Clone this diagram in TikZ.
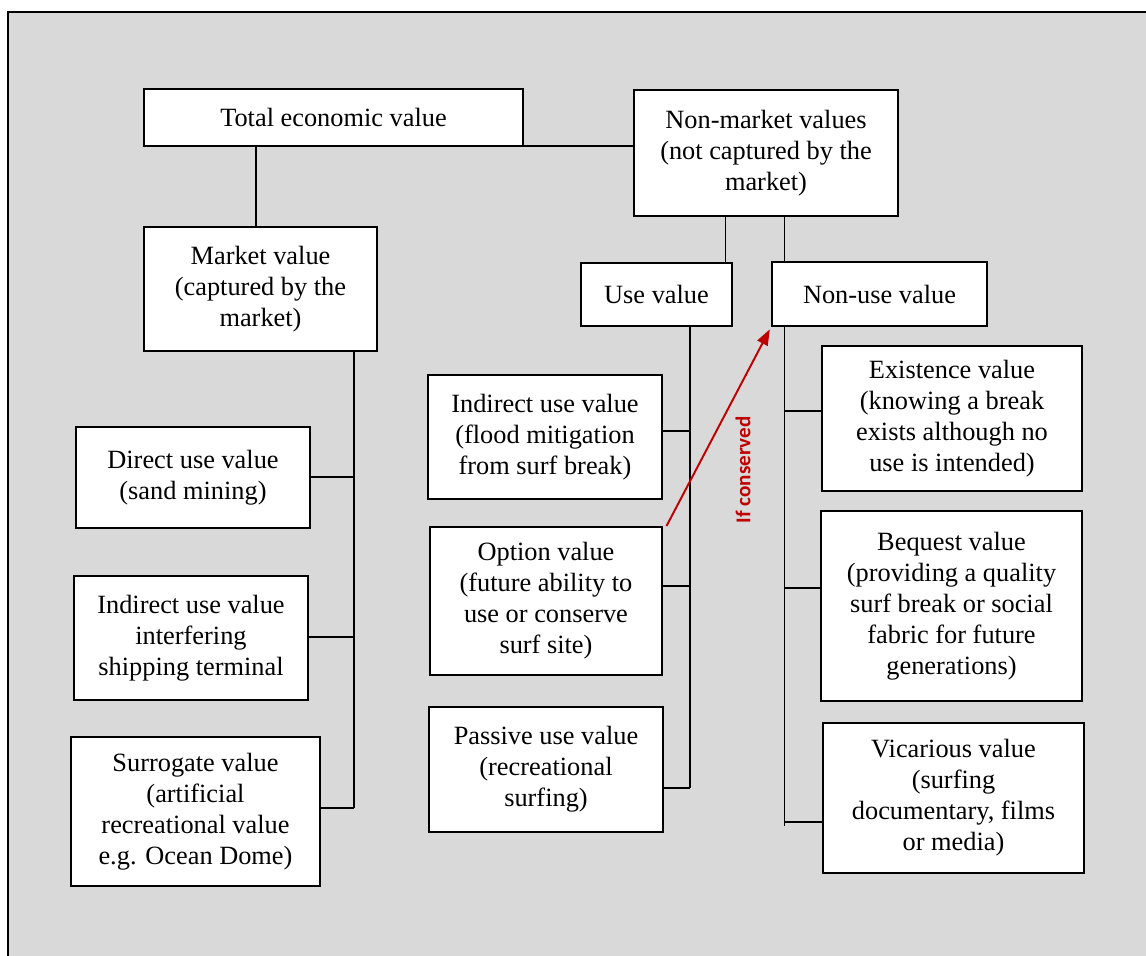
\documentclass[tikz,border=0pt]{standalone}
\usepackage{fontspec}
\setmainfont{Liberation Serif}
\newfontfamily\calibrifont{Carlito}
\usetikzlibrary{arrows.meta}
\definecolor{bgc}{HTML}{D9D9D9}
\definecolor{arrred}{HTML}{C00000}
\newcommand\mkbox[6]{%
  \pgfmathsetmacro\mybw{(#3-#2)*0.02}%
  \pgfmathsetmacro\mybh{(#5-#4)*0.02}%
  \node[bx, minimum width=\mybw cm, minimum height=\mybh cm] (#1) at ({(#2+#3)/2},{(#4+#5)/2}) {#6};}
\begin{document}
\begin{tikzpicture}[x=0.02cm,y=-0.02cm,
  bx/.style={draw=black, fill=white, line width=1.1pt, align=center, inner sep=0pt,
    font=\fontsize{15}{17.6}\selectfont},
  ln/.style={line width=1.1pt, draw=black},
  arr/.style={draw=arrred, line width=1.1pt, -{Triangle[length=9pt,width=6.5pt]}},
  lbl/.style={rotate=90, text=arrred, font=\calibrifont\bfseries\fontsize{12}{14}\selectfont}]
\useasboundingbox (0,0) rectangle (1146,956);
\clip (0,0) rectangle (1146,956);
% background frame
\fill[bgc] (8,12) rectangle (1170,980);
\draw[line width=1.1pt] (8,980) -- (8,12) -- (1170,12);

% boxes
\mkbox{tev}{144}{523}{89}{146}{Total economic value}
\mkbox{nmv}{634}{898}{90}{216}{Non-market values\\(not captured by the\\market)}
\mkbox{mv}{144}{377}{227}{351}{Market value\\(captured by the\\market)}
\mkbox{uv}{581}{732}{263}{326}{Use value}
\mkbox{nuv}{772}{987}{262}{326}{Non-use value}
\mkbox{duv}{76}{310}{427}{528}{Direct use value\\(sand mining)}
\mkbox{iuvb}{74}{308}{576}{700}{Indirect use value\\interfering\\shipping terminal}
\mkbox{sv}{71}{320}{737}{886}{Surrogate value\\(artificial\\recreational value\\e.g. Ocean Dome)}
\mkbox{iuv}{428}{662}{375}{499}{Indirect use value\\(flood mitigation\\from surf break)}
\mkbox{ov}{430}{662}{527}{675}{Option value\\(future ability to\\use or conserve\\surf site)}
\mkbox{puv}{429}{663}{707}{832}{Passive use value\\(recreational\\surfing)}
\mkbox{ev}{822}{1082}{346}{491}{Existence value\\(knowing a break\\exists although no\\use is intended)}
\mkbox{bv}{821}{1082}{511}{701}{Bequest value\\(providing a quality\\surf break or social\\fabric for future\\generations)}
\mkbox{vv}{823}{1084}{723}{873}{Vicarious value\\(surfing\\documentary, films\\or media)}

% spine coordinates
\coordinate (tx) at (256,0);
\coordinate (lx) at (354,0);
\coordinate (mx) at (725.5,0);
\coordinate (ux) at (690,0);
\coordinate (nx) at (784.5,0);
\coordinate (l1) at (0,477);
\coordinate (l2) at (0,637);
\coordinate (l3) at (0,808);
\coordinate (u1) at (0,431);
\coordinate (u2) at (0,586);
\coordinate (u3) at (0,788);
\coordinate (n1) at (0,411);
\coordinate (n2) at (0,588);
\coordinate (n3) at (0,822);
\coordinate (nend) at (0,826);

% connectors
\draw[ln] (tev.south -| tx) -- (mv.north -| tx);
\draw[ln] ([yshift=0.5pt]tev.south east) -- ([yshift=0.5pt]tev.south east -| nmv.west);
\draw[ln] (mv.south -| lx) -- (lx |- l3);
\draw[ln] (duv.east |- l1) -- (lx |- l1);
\draw[ln] (iuvb.east |- l2) -- (lx |- l2);
\draw[ln] (sv.east |- l3) -- (lx |- l3);
\draw[ln] (nmv.south -| mx) -- (uv.north -| mx);
\draw[ln] (nmv.south -| nx) -- (nuv.north -| nx);
\draw[ln] (uv.south -| ux) -- (ux |- u3);
\draw[ln] (iuv.east |- u1) -- (ux |- u1);
\draw[ln] (ov.east |- u2) -- (ux |- u2);
\draw[ln] (puv.east |- u3) -- (ux |- u3);
\draw[ln] (nuv.south -| nx) -- (nx |- nend);
\draw[ln] (ev.west |- n1) -- (nx |- n1);
\draw[ln] (bv.west |- n2) -- (nx |- n2);
\draw[ln] (vv.west |- n3) -- (nx |- n3);

% red arrow
\draw[arr, shorten >=1.5pt] ([xshift=2pt]ov.north east) -- (nuv.south west);
\node[lbl] (ifc) at (743,470) {If conserved};
\end{tikzpicture}
\end{document}
